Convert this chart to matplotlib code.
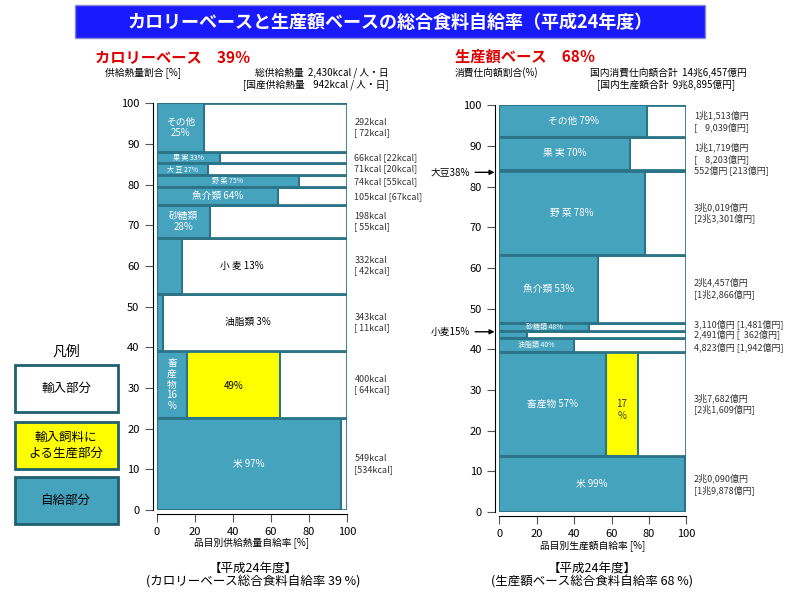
import matplotlib.pyplot as plt
from matplotlib.patches import Rectangle

plt.rcParams['font.family'] = 'Noto Sans CJK JP'

BLUE = '#46a3be'
EDGE = '#2b7488'
YEL = '#ffff00'

# calorie base (bottom to top)
cal_items = ['米', '畜産物', '油脂類', '小麦', '砂糖類', '魚介類', '野菜', '大豆', '果実', 'その他']
cal_kcal = [549, 400, 343, 332, 198, 105, 74, 71, 66, 292]
cal_dom = [534, 64, 11, 42, 55, 67, 55, 20, 22, 72]
cal_rate = [97, 16, 3, 13, 28, 64, 75, 27, 33, 25]
cal_feed = [0, 49, 0, 0, 0, 0, 0, 0, 0, 0]
cal_labels = ['米 97%', '畜\n産\n物\n16\n%', '油脂類 3%', '小 麦 13%', '砂糖類\n28%',
              '魚介類 64%', '野 菜 75%', '大 豆 27%', '果 実 33%', 'その他\n25%']
cal_right = ['549kcal\n[534kcal]', '400kcal\n[ 64kcal]', '343kcal\n[ 11kcal]', '332kcal\n[ 42kcal]',
             '198kcal\n[ 55kcal]', '105kcal [67kcal]', '74kcal [55kcal]', '71kcal [20kcal]',
             '66kcal [22kcal]', '292kcal\n[ 72kcal]']

# production value base (億円)
val_items = ['米', '畜産物', '油脂類', '小麦', '砂糖類', '魚介類', '野菜', '大豆', '果実', 'その他']
val_amt = [20090, 37682, 4823, 2491, 3110, 24457, 30019, 552, 11719, 11513]
val_rate = [99, 57, 40, 15, 48, 53, 78, 38, 70, 79]
val_feed = [0, 17, 0, 0, 0, 0, 0, 0, 0, 0]
val_labels = ['米 99%', '畜産物 57%', '油脂類 40%', '', '砂糖類 48%', '魚介類 53%', '野 菜 78%', '',
              '果 実 70%', 'その他 79%']
val_right = ['2兆0,090億円\n[1兆9,878億円]', '3兆7,682億円\n[2兆1,609億円]', '4,823億円 [1,942億円]',
             '2,491億円 [  362億円]', '3,110億円 [1,481億円]', '2兆4,457億円\n[1兆2,866億円]',
             '3兆0,019億円\n[2兆3,301億円]', '552億円 [213億円]', '1兆1,719億円\n[    8,203億円]',
             '1兆1,513億円\n[    9,039億円]']

fig = plt.figure(figsize=(8, 5.93), dpi=100)


def draw(ax, amounts, rates, feeds, labels, rights, xpos, ypos):
    total = sum(amounts)
    bottom = 0
    for i, a in enumerate(amounts):
        h = a / total * 100
        ax.add_patch(Rectangle((0, bottom), 100, h, fc='white', ec=EDGE, lw=2))
        ax.add_patch(Rectangle((0, bottom), rates[i], h, fc=BLUE, ec=EDGE, lw=1.5))
        if feeds[i]:
            ax.add_patch(Rectangle((rates[i], bottom), feeds[i], h, fc=YEL, ec=EDGE, lw=1.5))
        lab = labels[i]
        if lab:
            fs = 5 if h < 3.5 else 7
            x = xpos.get(i, rates[i] / 2)
            col = 'black' if x > rates[i] else 'white'
            ax.text(x, bottom + h / 2, lab, ha='center', va='center', fontsize=fs, color=col,
                    linespacing=1.1)
        ax.text(104, bottom + h / 2 + ypos.get(i, 0), rights[i], ha='left', va='center', fontsize=6.5,
                color='#333333', linespacing=1.2, clip_on=False)
        bottom += h
    ax.set_xlim(0, 100)
    ax.set_ylim(0, 100)
    ax.set_xticks(range(0, 101, 20))
    ax.set_yticks(range(0, 101, 10))
    ax.tick_params(labelsize=8, length=6, color='#555555')
    for s in ['top', 'right']:
        ax.spines[s].set_visible(False)
    ax.spines['left'].set_position(('outward', 3))
    ax.spines['bottom'].set_position(('outward', 3))


ax1 = fig.add_axes([0.196, 0.14, 0.2375, 0.686])
draw(ax1, cal_kcal, cal_rate, cal_feed, cal_labels, cal_right, {3: 45, 2: 48}, {})
ax1.text(40.5, 30.5, '49%', ha='center', va='center', fontsize=7)
ax1.text(0.5, -0.09, '品目別供給熱量自給率 [%]', transform=ax1.transAxes, ha='center', fontsize=7)

ax2 = fig.add_axes([0.624, 0.1366, 0.234, 0.686])
draw(ax2, val_amt, val_rate, val_feed, val_labels, val_right, {}, {2: -0.6, 4: 0.6})
ax2.text(65.5, 25, '17\n%', ha='center', va='center', fontsize=7, color='#333333')
ax2.text(0.5, -0.09, '品目別生産額自給率 [%]', transform=ax2.transAxes, ha='center', fontsize=7)
ax2.annotate('大豆38%', xy=(-1, 83.5), xytext=(-20, 0), textcoords='offset points', fontsize=7,
             va='center', ha='right', annotation_clip=False,
             arrowprops=dict(arrowstyle='-|>', color='black', lw=1))
ax2.annotate('小麦15%', xy=(-1, 44.3), xytext=(-20, 0), textcoords='offset points', fontsize=7,
             va='center', ha='right', annotation_clip=False,
             arrowprops=dict(arrowstyle='-|>', color='black', lw=1))

# title banner
fig.patches.append(Rectangle((75 / 800, 1 - 38 / 593), 630 / 800, 33 / 593, transform=fig.transFigure,
                             fc='#1a1aff', ec='#8888cc', lw=1))
fig.text(390 / 800, 1 - 22 / 593, 'カロリーベースと生産額ベースの総合食料自給率（平成24年度）',
         ha='center', va='center', fontsize=13, color='white', fontweight='bold')

fig.text(95 / 800, 1 - 57 / 593, 'カロリーベース　39％', fontsize=11, color='#e00000', fontweight='bold', va='center')
fig.text(105 / 800, 1 - 73 / 593, '供給熱量割合 [%]', fontsize=7, va='center')
fig.text(255 / 800, 1 - 73 / 593, '総供給熱量  2,430kcal / 人・日', fontsize=7, va='center')
fig.text(243 / 800, 1 - 85 / 593, '[国産供給熱量    942kcal / 人・日]', fontsize=7, va='center')

fig.text(455 / 800, 1 - 57 / 593, '生産額ベース　68％', fontsize=11, color='#e00000', fontweight='bold', va='center')
fig.text(455 / 800, 1 - 73 / 593, '消費仕向額割合(%)', fontsize=7, va='center')
fig.text(590 / 800, 1 - 73 / 593, '国内消費仕向額合計  14兆6,457億円', fontsize=7, va='center')
fig.text(597 / 800, 1 - 85 / 593, '[国内生産額合計  9兆8,895億円]', fontsize=7, va='center')

fig.text(253 / 800, 1 - 568 / 593, '【平成24年度】', ha='center', fontsize=9, va='center')
fig.text(253 / 800, 1 - 582 / 593, '(カロリーベース総合食料自給率 39 %)', ha='center', fontsize=9, va='center')
fig.text(592 / 800, 1 - 568 / 593, '【平成24年度】', ha='center', fontsize=9, va='center')
fig.text(592 / 800, 1 - 582 / 593, '(生産額ベース総合食料自給率 68 %)', ha='center', fontsize=9, va='center')

# legend
fig.text(66 / 800, 1 - 352 / 593, '凡例', ha='center', va='center', fontsize=10)
for y0, fc, txt in [(365, 'white', '輸入部分'), (422, YEL, '輸入飼料に\nよる生産部分'), (477, BLUE, '自給部分')]:
    fig.patches.append(Rectangle((15 / 800, 1 - (y0 + 47) / 593), 103 / 800, 47 / 593,
                                 transform=fig.transFigure, fc=fc, ec='#1f5f70', lw=2))
    fig.text(66 / 800, 1 - (y0 + 23.5) / 593, txt, ha='center', va='center', fontsize=9, linespacing=1.3)

fig.savefig('out.png', dpi=100)
